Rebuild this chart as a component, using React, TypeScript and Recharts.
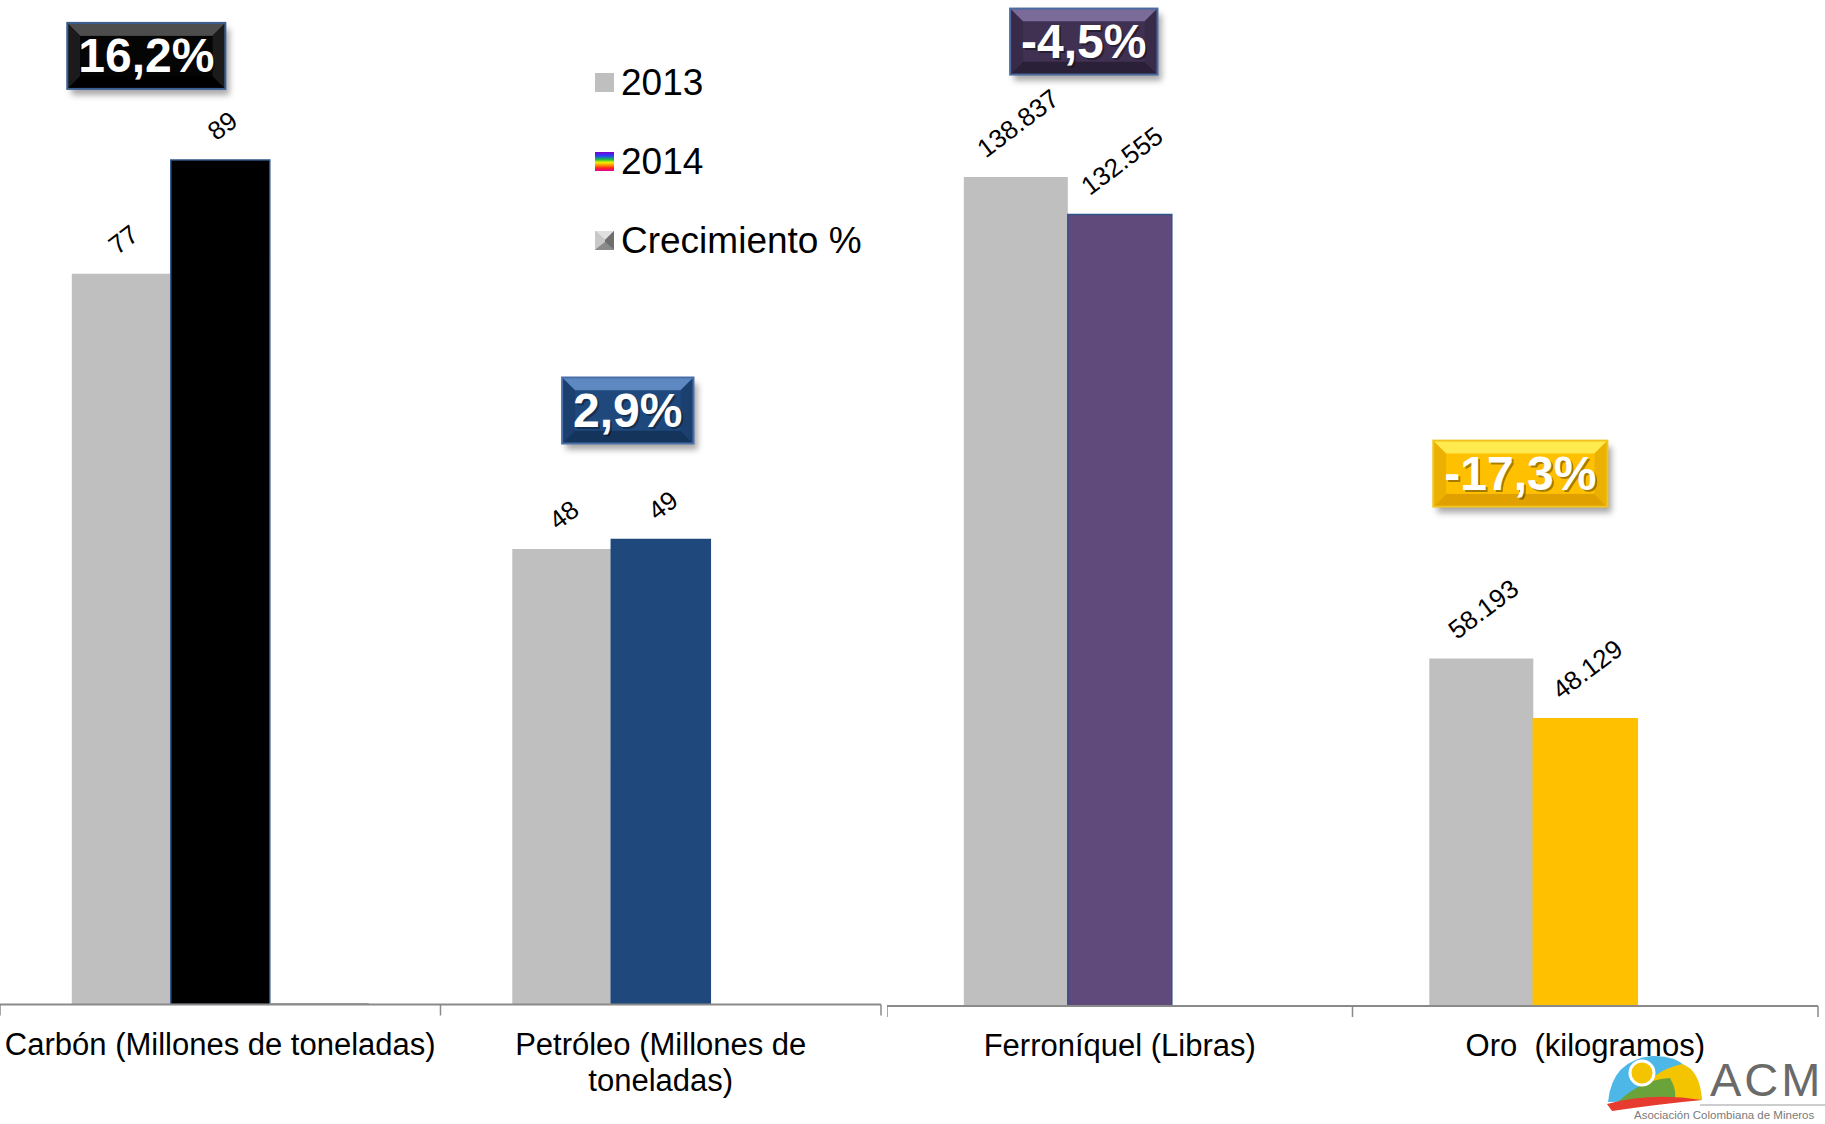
import React from "react"
import { Bar, BarChart, Cell, LabelList, Legend, XAxis, YAxis } from "recharts"

const FONT = "'Liberation Sans', Arial, Helvetica, sans-serif"

// mining production, left panel (millions of tonnes)
const leftCategories = ["Carbón (Millones de toneladas)", "Petróleo (Millones de toneladas)"]
const left2013 = [77, 48]
const left2014 = [89, 49]
const leftGrowth = [0.162, 0.029]

// right panel (pounds / kilograms)
const rightCategories = ["Ferroníquel (Libras)", "Oro  (kilogramos)"]
const right2013 = [138837, 58193]
const right2014 = [132555, 48129]
const rightGrowth = [-0.045, -0.173]

const seriesNames = ["2013", "2014", "Crecimiento %"]

const leftColors2014 = ["#000000", "#1F497D"]
const rightColors2014 = ["#604A7B", "#FFC000"]

type CalloutStyle = { base: string; light: string; dark: string; side: string; border: string; dx: number; rise: number }

const leftCallouts: CalloutStyle[] = [
  { base: "#050505", light: "#4d4d4d", dark: "#000000", side: "#1b1b1b", border: "#3B5F93", dx: -74, rise: 137 },
  { base: "#1F497D", light: "#5E88C2", dark: "#15345C", side: "#1B406F", border: "#4A6FA8", dx: -33, rise: 162 },
]
const rightCallouts: CalloutStyle[] = [
  { base: "#403152", light: "#7B6B98", dark: "#2A2038", side: "#382A49", border: "#4B6BA0", dx: -36, rise: 206 },
  { base: "#FFC000", light: "#FFEA50", dark: "#DFA000", side: "#ECB000", border: "#F2C420", dx: -65, rise: 278 },
]

const digitWidth = (s: string, bold = false) =>
  s.split("").reduce((acc, ch) => {
    if (/[0-9]/.test(ch)) return acc + 0.556
    if (ch === "." || ch === ",") return acc + 0.278
    if (ch === "-") return acc + 0.333
    if (ch === "%") return acc + 0.889
    return acc + (bold ? 0.6 : 0.55)
  }, 0)

const fmtThousands = (v: number) => String(v).replace(/\B(?=(\d{3})+(?!\d))/g, ".")
const fmtPct = (v: number) => (v * 100).toFixed(1).replace(".", ",") + "%"

let measureCtx: CanvasRenderingContext2D | null = null
function measure(text: string, font: string) {
  if (!measureCtx && typeof document !== "undefined") measureCtx = document.createElement("canvas").getContext("2d")
  if (!measureCtx) return text.length * 15
  measureCtx.font = font
  return measureCtx.measureText(text).width
}

function wrapLines(text: string, maxWidth: number, font: string) {
  const words = text.split(" ")
  const lines: string[] = []
  let cur = ""
  words.forEach((w, i) => {
    const next = i === 0 ? w : cur + " " + w
    if (cur && w && measure(next, font) > maxWidth) {
      lines.push(cur)
      cur = w
    } else {
      cur = next
    }
  })
  lines.push(cur)
  return lines
}

const makeValueLabel = (fmt: (v: number) => string) => (props: any) => {
  const { x, y, width, value } = props
  if (value == null) return null
  const text = fmt(Number(value))
  const fs = 26
  const a = (37 * Math.PI) / 180
  const w = digitWidth(text) * fs
  const extent = w * Math.sin(a) + fs * 0.72 * Math.cos(a)
  const cx = Number(x) + Number(width) / 2 + 2
  const cy = Number(y) - 18 - extent / 2
  return (
    <text
      x={cx}
      y={cy}
      textAnchor="middle"
      dominantBaseline="central"
      fontSize={fs}
      fontFamily={FONT}
      fill="#000"
      transform={`rotate(-37, ${cx}, ${cy})`}
    >
      {text}
    </text>
  )
}

const makeCallout = (styles: CalloutStyle[], tag: string) => (props: any) => {
  const { x, y, width, value, index } = props
  const st = styles[index]
  if (!st || value == null) return null
  const text = fmtPct(Number(value))
  const fs = 48
  const w = digitWidth(text, true) * fs + 22
  const h = 66
  const b = 13
  const left = Number(x) + Number(width) / 2 + st.dx - w / 2
  const top = Number(y) - st.rise
  const fid = `shadow-${tag}-${index}`
  return (
    <g>
      <defs>
        <filter id={fid} x="-20%" y="-20%" width="150%" height="160%">
          <feDropShadow dx="4" dy="6" stdDeviation="3" floodColor="#000" floodOpacity="0.35" />
        </filter>
      </defs>
      <g transform={`translate(${left}, ${top})`}>
        <rect x={0} y={0} width={w} height={h} fill={st.base} filter={`url(#${fid})`} />
        <polygon points={`0,0 ${w},0 ${w - b},${b} ${b},${b}`} fill={st.light} />
        <polygon points={`0,${h} ${w},${h} ${w - b},${h - b} ${b},${h - b}`} fill={st.dark} />
        <polygon points={`0,0 ${b},${b} ${b},${h - b} 0,${h}`} fill={st.side} />
        <polygon points={`${w},0 ${w - b},${b} ${w - b},${h - b} ${w},${h}`} fill={st.side} />
        <rect x={b} y={b} width={w - 2 * b} height={h - 2 * b} fill={st.base} />
        <rect x={0} y={0} width={w} height={h} fill="none" stroke={st.border} strokeWidth={2} />
        <text x={w / 2 + 2} y={h / 2 + 2} textAnchor="middle" dominantBaseline="central" fontSize={fs} fontWeight="bold" fontFamily={FONT} fill="#000" opacity={0.35}>
          {text}
        </text>
        <text x={w / 2} y={h / 2} textAnchor="middle" dominantBaseline="central" fontSize={fs} fontWeight="bold" fontFamily={FONT} fill="#fff">
          {text}
        </text>
      </g>
    </g>
  )
}

function CategoryTick(props: any) {
  const { x, y, payload, index, band, count } = props
  const lines = wrapLines(String(payload.value), band, `31px ${FONT}`)
  return (
    <g>
      <line x1={x - band / 2} x2={x - band / 2} y1={y} y2={y + 11} stroke="#8a8a8a" strokeWidth={1.5} />
      {index === count - 1 && (
        <line x1={x + band / 2} x2={x + band / 2} y1={y} y2={y + 11} stroke="#8a8a8a" strokeWidth={1.5} />
      )}
      <text x={x} y={y + 50} textAnchor="middle" fontSize={31} fontFamily={FONT} fill="#000" style={{ whiteSpace: "pre" }}>
        {lines.map((ln, i) => (
          <tspan key={i} x={x} dy={i === 0 ? 0 : 36}>
            {ln}
          </tspan>
        ))}
      </text>
    </g>
  )
}

function LegendIcon({ index }: { index: number }) {
  if (index === 0) return <svg width={19} height={19}><rect width={19} height={19} fill="#BFBFBF" /></svg>
  if (index === 1)
    return (
      <svg width={19} height={19}>
        <defs>
          <linearGradient id="rainbow" x1="0" y1="0" x2="0" y2="1">
            <stop offset="0" stopColor="#7F00C8" />
            <stop offset="0.2" stopColor="#2040FF" />
            <stop offset="0.4" stopColor="#20C040" />
            <stop offset="0.55" stopColor="#F0F000" />
            <stop offset="0.7" stopColor="#FF9000" />
            <stop offset="0.85" stopColor="#FF2020" />
            <stop offset="1" stopColor="#E000A0" />
          </linearGradient>
        </defs>
        <rect width={19} height={19} fill="url(#rainbow)" />
      </svg>
    )
  return (
    <svg width={19} height={19}>
      <rect width={19} height={19} fill="#9a9a9a" />
      <polygon points="0,0 19,0 10,9" fill="#e0e0e0" />
      <polygon points="0,0 10,9 10,11 0,19" fill="#c8c8c8" />
      <polygon points="19,0 10,9 10,11 19,19" fill="#6e6e6e" />
      <polygon points="0,19 10,11 19,19" fill="#8a8a8a" />
    </svg>
  )
}

const renderLegend = () => (
  <div style={{ fontFamily: FONT, fontSize: 37, color: "#000" }}>
    {seriesNames.map((name, i) => (
      <div key={name} style={{ height: 79, display: "flex", alignItems: "center" }}>
        <LegendIcon index={i} />
        <span style={{ marginLeft: 7, lineHeight: 1 }}>{name}</span>
      </div>
    ))}
  </div>
)

type PanelProps = {
  categories: string[]
  v2013: number[]
  v2014: number[]
  growth: number[]
  colors2014: string[]
  strokes2014: string[]
  callouts: CalloutStyle[]
  fmt: (v: number) => string
  domain: [number, number]
  width: number
  margin: { top: number; right: number; bottom: number; left: number }
  gap: string
  tag: string
  legend?: boolean
}

function Panel(p: PanelProps) {
  const data = p.categories.map((name, i) => ({ name, y2013: p.v2013[i], y2014: p.v2014[i], growth: p.growth[i] }))
  const band = (p.width - p.margin.left - p.margin.right) / p.categories.length
  return (
    <BarChart width={p.width} height={1124} data={data} margin={p.margin} barGap={0} barCategoryGap={p.gap}>
      <XAxis
        dataKey="name"
        height={100}
        interval={0}
        tickLine={false}
        tickSize={0}
        tickMargin={0}
        axisLine={{ stroke: "#8a8a8a", strokeWidth: 2 }}
        tick={(t: any) => <CategoryTick {...t} band={band} count={p.categories.length} />}
      />
      <YAxis hide domain={p.domain} allowDataOverflow />
      {p.legend && (
        <Legend
          layout="vertical"
          align="center"
          verticalAlign="middle"
          content={renderLegend}
          wrapperStyle={{ position: "absolute", left: 595, top: 43, width: 300, height: 240 }}
        />
      )}
      <Bar dataKey="y2013" name={seriesNames[0]} fill="#BFBFBF" isAnimationActive={false}>
        <LabelList dataKey="y2013" content={makeValueLabel(p.fmt)} />
      </Bar>
      <Bar dataKey="y2014" name={seriesNames[1]} fill={p.colors2014[0]} isAnimationActive={false}>
        {data.map((d, i) => (
          <Cell key={d.name} fill={p.colors2014[i]} stroke={p.strokes2014[i]} strokeWidth={1.5} />
        ))}
        <LabelList dataKey="y2014" content={makeValueLabel(p.fmt)} />
        <LabelList dataKey="growth" content={makeCallout(p.callouts, p.tag)} />
      </Bar>
      <Bar dataKey="growth" name={seriesNames[2]} fill="#A6A6A6" isAnimationActive={false} />
    </BarChart>
  )
}

function Logo() {
  return (
    <svg width={1825} height={1124} style={{ position: "absolute", left: 0, top: 0, pointerEvents: "none" }}>
      <path d="M1608,1102 Q1612,1060 1652,1056 Q1694,1054 1702,1100 Z" fill="#4DB8E8" />
      <path d="M1630,1102 Q1652,1070 1682,1064 Q1700,1070 1702,1100 Z" fill="#F5C400" />
      <path d="M1618,1102 Q1640,1080 1670,1078 Q1678,1092 1674,1102 Z" fill="#6BA33B" />
      <circle cx={1642} cy={1073} r={12} fill="#F5C400" stroke="#fff" strokeWidth={3} />
      <path d="M1607,1104 Q1652,1092 1702,1100 Q1660,1104 1612,1111 Z" fill="#E63B2E" />
      <text x={1710} y={1096} fontSize={47} fontFamily={FONT} fill="#6a6a6a" letterSpacing={3}>ACM</text>
      <line x1={1700} x2={1825} y1={1105} y2={1105} stroke="#9a9a9a" strokeWidth={1} />
      <text x={1634} y={1119} fontSize={11.5} fontFamily={FONT} fill="#7a7a7a">Asociación Colombiana de Mineros</text>
    </svg>
  )
}

export default function App() {
  return (
    <div style={{ position: "absolute", left: 0, top: 0, width: 1825, height: 1124, background: "#fff", overflow: "hidden" }}>
      <div style={{ display: "flex" }}>
        <Panel
          categories={leftCategories}
          v2013={left2013}
          v2014={left2014}
          growth={leftGrowth}
          colors2014={leftColors2014}
          strokes2014={["#2F5488", "#1F497D"]}
          callouts={leftCallouts}
          fmt={(v) => String(v)}
          domain={[0, 100]}
          width={887}
          margin={{ top: 55.5, right: 6, bottom: 19.5, left: 0 }}
          gap="16.3%"
          tag="l"
          legend
        />
        <Panel
          categories={rightCategories}
          v2013={right2013}
          v2014={right2014}
          growth={rightGrowth}
          colors2014={rightColors2014}
          strokes2014={["#2F5488", "#FFC000"]}
          callouts={rightCallouts}
          fmt={fmtThousands}
          domain={[0, 160000]}
          width={938}
          margin={{ top: 50.7, right: 7, bottom: 18, left: 0 }}
          gap="16.5%"
          tag="r"
        />
      </div>
      <Logo />
    </div>
  )
}
